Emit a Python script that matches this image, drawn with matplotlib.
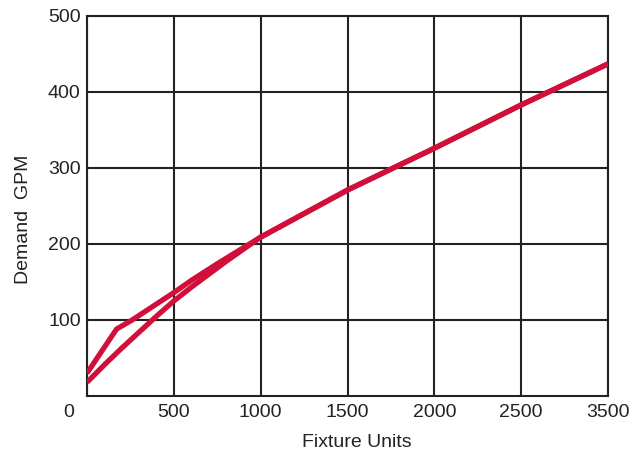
import matplotlib
matplotlib.use("Agg")
import matplotlib.pyplot as plt
import matplotlib.transforms as mtransforms

plt.rcParams['font.family'] = ['Liberation Sans', 'DejaVu Sans']

# Data
fu_tanks = [0, 100, 200, 300, 400, 500, 600, 700, 800, 900, 1000, 1500, 2000, 2500, 3000]
gpm_tanks = [18, 41, 63, 84, 105, 125, 143, 160, 177, 193, 209, 271, 326, 383, 437]

fu_valves = [0, 170, 260, 400, 500, 600, 750, 900, 1000, 1500, 2000, 2500, 3000]
gpm_valves = [30, 88, 100, 121, 136, 152, 174, 195, 209, 271, 326, 383, 437]

x_ticks = [0, 500, 1000, 1500, 2000, 2500, 3000]
x_tick_labels = ['0', '500', '1000', '1500', '2000', '2500', '3500']
y_ticks = [100, 200, 300, 400, 500]
y_tick_labels = ['100', '200', '300', '400', '500']

red = '#D0103A'
ink = '#222222'

fig = plt.figure(figsize=(6.36, 4.54), dpi=100)
ax = fig.add_axes([87/636, 58/454, 521/636, 380/454])

ax.plot(fu_tanks, gpm_tanks, color=red, lw=3.8, solid_capstyle='butt', zorder=3)
ax.plot(fu_valves, gpm_valves, color=red, lw=3.8, solid_capstyle='butt', zorder=3)

ax.set_xlim(0, 3000)
ax.set_ylim(0, 500)
ax.set_xticks(x_ticks)
ax.set_xticklabels(x_tick_labels)
ax.set_yticks(y_ticks)
ax.set_yticklabels(y_tick_labels)
ax.tick_params(length=0, labelsize=14, colors=ink)
ax.tick_params(axis='x', pad=6)
ax.tick_params(axis='y', pad=4.5)

# shift the "0" label left of the corner
lbl0 = ax.get_xticklabels()[0]
lbl0.set_transform(lbl0.get_transform() + mtransforms.ScaledTranslation(-18.5/100, 0, fig.dpi_scale_trans))

ax.grid(True, color=ink, lw=1.5)
for s in ax.spines.values():
    s.set_color(ink)
    s.set_linewidth(1.5)

ax.set_xlabel('Fixture Units', fontsize=14, color=ink)
ax.xaxis.set_label_coords(0.518, -0.099)
ax.set_ylabel('Demand  GPM', fontsize=14, color=ink)
ax.yaxis.set_label_coords(-0.106, 0.466)

fig.savefig('out.png', dpi=100)
